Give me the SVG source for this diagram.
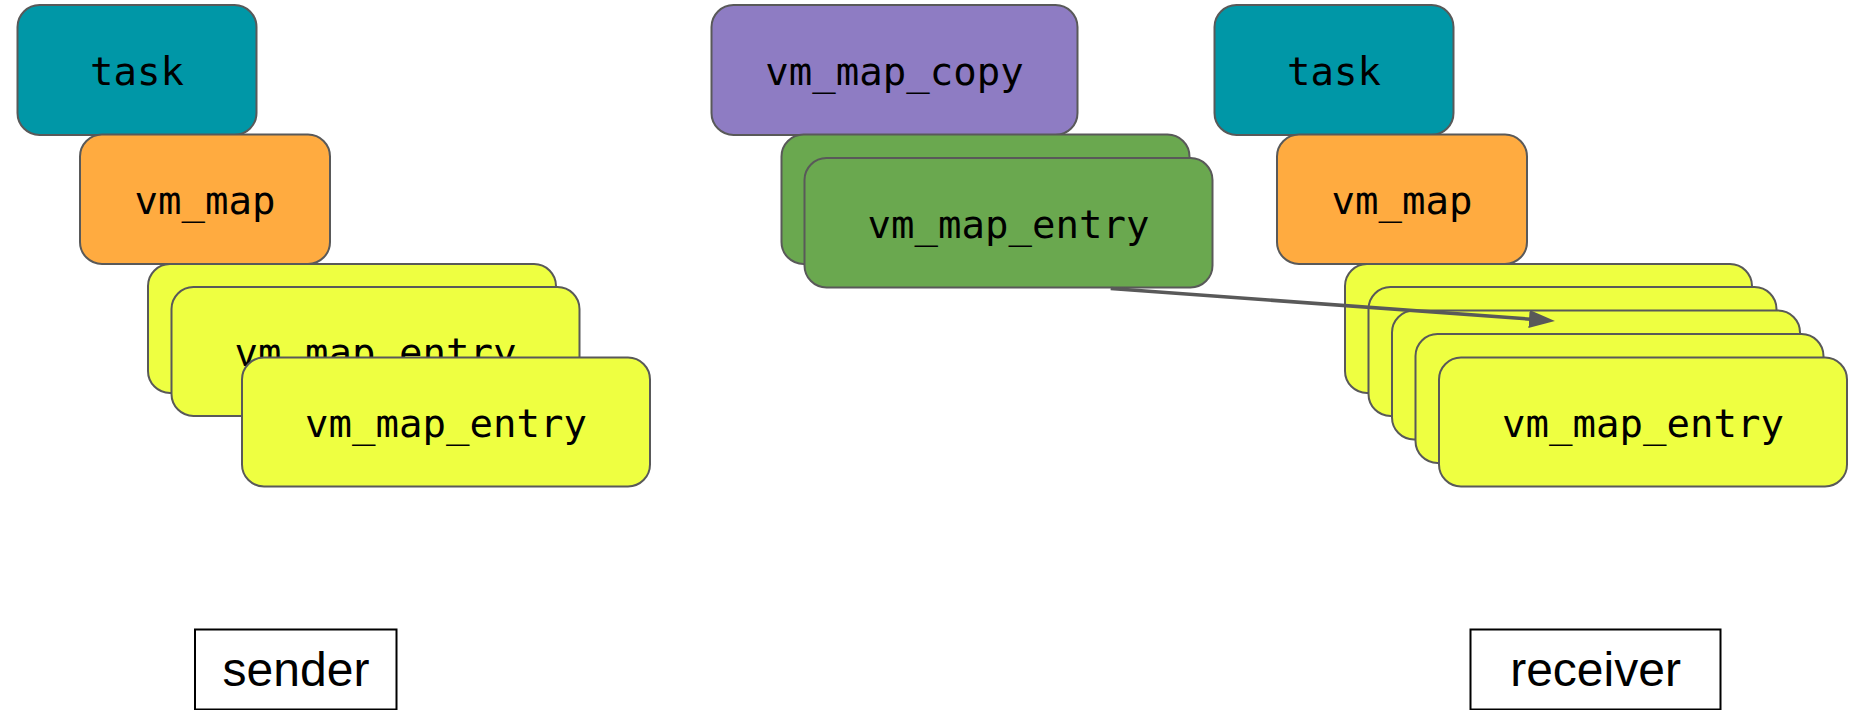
<svg xmlns="http://www.w3.org/2000/svg" width="1853" height="710" viewBox="0 0 1853 710">
  <style>
    .box { stroke: #595959; stroke-width: 2; }
    .task { fill: #0097A7; }
    .map { fill: #FFAB40; }
    .entry { fill: #EEFF41; }
    .copy { fill: #8E7CC3; }
    .centry { fill: #6AA84F; }
    .mono { font-family: "DejaVu Sans Mono", "Liberation Mono", monospace; font-size: 39px; fill: #000; text-anchor: middle; }
    .side { fill: #fff; stroke: #000; stroke-width: 2; }
    .sideText { font-family: "Liberation Sans", Arial, sans-serif; font-size: 48px; fill: #000; text-anchor: middle; }
    .conn { stroke: #595959; stroke-width: 3.5; fill: none; }
  </style>
  <defs>
    <marker id="arrowHead" viewBox="0 0 26 18" refX="5" refY="9" markerWidth="26" markerHeight="18" markerUnits="userSpaceOnUse" orient="auto">
      <path d="M0,0 L26,9 L0,18 z" fill="#595959"/>
    </marker>
  </defs>

  <!-- sender side -->
  <g id="sender-task">
    <rect class="box task" x="17.5" y="5" width="239" height="130" rx="22"/>
    <text class="mono" x="137" y="85">task</text>
  </g>
  <g id="sender-vm-map">
    <rect class="box map" x="80" y="134.5" width="250" height="129.5" rx="22"/>
    <text class="mono" x="205" y="214">vm_map</text>
  </g>
  <g id="sender-entry-1">
    <rect class="box entry" x="148" y="264" width="408" height="129" rx="22"/>
  </g>
  <g id="sender-entry-2">
    <rect class="box entry" x="171.5" y="287" width="408" height="129" rx="22"/>
    <text class="mono" x="375.5" y="366">vm_map_entry</text>
  </g>
  <g id="sender-entry-3">
    <rect class="box entry" x="242" y="357.5" width="408" height="129" rx="22"/>
    <text class="mono" x="446" y="437">vm_map_entry</text>
  </g>

  <!-- copy object in transit -->
  <g id="vm-map-copy">
    <rect class="box copy" x="711.5" y="5" width="366" height="130" rx="22"/>
    <text class="mono" x="894.5" y="85">vm_map_copy</text>
  </g>
  <g id="copy-entry-1">
    <rect class="box centry" x="781.5" y="134.5" width="408" height="129.5" rx="22"/>
  </g>
  <g id="copy-entry-2">
    <rect class="box centry" x="804.5" y="158" width="408" height="129.5" rx="22"/>
    <text class="mono" x="1008.5" y="238">vm_map_entry</text>
  </g>

  <!-- receiver side -->
  <g id="receiver-task">
    <rect class="box task" x="1214.5" y="5" width="239" height="130" rx="22"/>
    <text class="mono" x="1334" y="85">task</text>
  </g>
  <g id="receiver-vm-map">
    <rect class="box map" x="1277" y="134.5" width="250" height="129.5" rx="22"/>
    <text class="mono" x="1402" y="214">vm_map</text>
  </g>
  <g id="receiver-entry-1">
    <rect class="box entry" x="1345" y="264" width="407" height="129" rx="22"/>
  </g>
  <g id="receiver-entry-2">
    <rect class="box entry" x="1368.5" y="287" width="408" height="129" rx="22"/>
  </g>
  <g id="receiver-entry-3">
    <rect class="box entry" x="1392" y="310.5" width="408" height="129" rx="22"/>
  </g>
  <g id="receiver-entry-4">
    <rect class="box entry" x="1415.5" y="334" width="408" height="129" rx="22"/>
  </g>
  <g id="receiver-entry-5">
    <rect class="box entry" x="1439" y="357.5" width="408" height="129" rx="22"/>
    <text class="mono" x="1643" y="437">vm_map_entry</text>
  </g>

  <!-- side labels -->
  <g id="sender-label">
    <rect class="side" x="195" y="629.5" width="201.5" height="80"/>
    <text class="sideText" x="296" y="686">sender</text>
  </g>
  <g id="receiver-label">
    <rect class="side" x="1470.5" y="629.5" width="250" height="80"/>
    <text class="sideText" x="1595.5" y="686">receiver</text>
  </g>

  <!-- connectors -->
  <g id="connectors">
    <line class="conn" x1="1110.7" y1="288.5" x2="1534" y2="319.4" marker-end="url(#arrowHead)"/>
  </g>
</svg>
